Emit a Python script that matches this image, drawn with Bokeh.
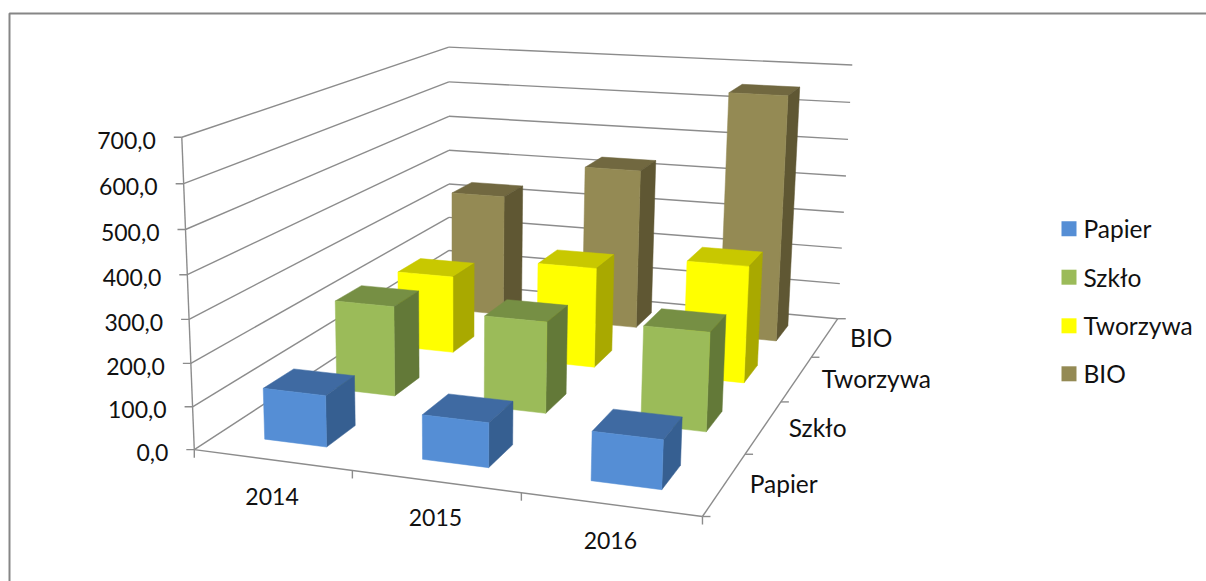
from bokeh.plotting import figure
from bokeh.embed import file_html
from bokeh.resources import INLINE
from bokeh.core.properties import value
import numpy as np

years = ["2014", "2015", "2016"]
series = ["Papier", "Szkło", "Tworzywa", "BIO"]
Papier = [120, 102, 110]
Szklo = [223, 222, 235]
Tworzywa = [202, 257, 295]
BIO = [335, 432, 652]
values = [Papier, Szklo, Tworzywa, BIO]
value_ticks = [0, 100, 200, 300, 400, 500, 600, 700]
tick_labels = ["0,0", "100,0", "200,0", "300,0", "400,0", "500,0", "600,0", "700,0"]

front_col = ["#558ED5", "#9BBB59", "#FFFF00", "#948A54"]
top_col = ["#3F6AA2", "#768F44", "#C8C800", "#716840"]
side_col = ["#365F91", "#637938", "#A9A900", "#5F5733"]
GREY = "#8C8C8C"
FONT = value("Lato")
FS = "23px"
FS_WORD = "24.5px"

# camera calibration: (category, series, value) -> screen pixel
calib = [
    ((0, 0, 0), (195, 448)), ((3, 0, 0), (702, 517)), ((3, 4, 0), (838, 317)),
    ((0, 4, 0), (447, 284)), ((0, 0, 700), (180, 137)), ((0, 4, 700), (450, 46)),
    ((3, 4, 700), (851, 65)),
]
A = []
for (u, v, h), (px, py) in calib:
    X = [u, v, h / 100, 1]
    A.append(X + [0, 0, 0, 0] + [-px * c for c in X])
    A.append([0, 0, 0, 0] + X + [-py * c for c in X])
P = np.linalg.svd(np.array(A, float))[2][-1].reshape(3, 4)


def proj(u, v, h):
    q = P @ np.array([u, v, h / 100, 1.0])
    return float(q[0] / q[2]), float(q[1] / q[2])


p = figure(width=1206, height=581, x_range=(0, 1206), y_range=(581, 0),
           output_backend="svg", toolbar_location=None, min_border=0)
p.axis.visible = False
p.grid.visible = False
p.outline_line_color = None
p.background_fill_color = "#FFFFFF"

# frame (top and left edges)
p.line([9, 9, 1206], [581, 13, 13], line_color="#868686", line_width=2)


def seg(a, b, w=1.4):
    p.line([a[0], b[0]], [a[1], b[1]], line_color=GREY, line_width=w)


# walls
for t in value_ticks:
    seg(proj(0, 0, t), proj(0, 4, t))
    seg(proj(0, 4, t), proj(3, 4, t))

# axes
seg(proj(0, 0, 0), proj(0, 0, 700))
seg(proj(0, 0, 0), proj(3, 0, 0))
seg(proj(3, 0, 0), proj(3, 4, 0))
for t in value_ticks:
    a = proj(0, 0, t)
    seg(a, (a[0] - 8, a[1]))
for i in range(4):
    a = proj(i, 0, 0)
    seg(a, (a[0], a[1] + 8))
for j in range(5):
    a = proj(3, j, 0)
    seg(a, (a[0] + 8, a[1]))

# bars, back row first
for j in range(3, -1, -1):
    for i in range(3):
        h = values[j][i]
        u0, u1, v0, v1 = i + 0.3, i + 0.7, j + 0.3, j + 0.7
        faces = [
            ([(u0, v0, h), (u1, v0, h), (u1, v1, h), (u0, v1, h)], top_col[j]),
            ([(u1, v0, 0), (u1, v1, 0), (u1, v1, h), (u1, v0, h)], side_col[j]),
            ([(u0, v0, 0), (u1, v0, 0), (u1, v0, h), (u0, v0, h)], front_col[j]),
        ]
        for corners, col in faces:
            pts = [proj(*c) for c in corners]
            p.patch([q[0] for q in pts], [q[1] for q in pts], fill_color=col,
                    line_color=col, line_width=0.5)

# tick labels
xs, ys = [], []
for t in value_ticks:
    a = proj(0, 0, t)
    xs.append(a[0] - 26)
    ys.append(a[1] + 3)
p.text(xs, ys, text=tick_labels, text_font=FONT, text_font_size=FS,
       text_align="right", text_baseline="middle", text_color="#111111")

xs, ys = [], []
for i in range(3):
    a = proj(i + 0.5, 0, 0)
    xs.append(a[0])
    ys.append(a[1] + 36.5)
p.text(xs, ys, text=years, text_font=FONT, text_font_size=FS,
       text_align="center", text_baseline="middle", text_color="#111111")

xs, ys = [], []
for j in range(4):
    a = proj(3, j + 0.5, 0)
    xs.append(a[0] + 25)
    ys.append(a[1])
p.text(xs, ys, text=series, text_font=FONT, text_font_size=FS_WORD,
       text_align="left", text_baseline="middle", text_color="#111111")

# legend
leg_y = [228.3, 276.7, 325.3, 373.3]
p.rect([1068.5] * 4, leg_y, width=15, height=15, fill_color=front_col, line_color=None)
p.text([1083] * 4, leg_y, text=series, text_font=FONT, text_font_size=FS_WORD,
       text_align="left", text_baseline="middle", text_color="#111111")

open("out.html", "w").write(file_html(p, INLINE))
